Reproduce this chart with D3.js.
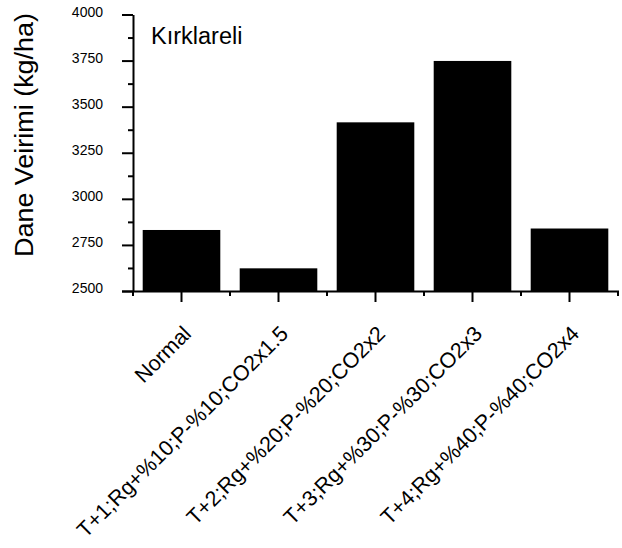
<!DOCTYPE html>
<html>
<head>
<meta charset="utf-8">
<script src="https://cdn.jsdelivr.net/npm/d3@7"></script>
<style>
  html, body { margin: 0; padding: 0; background: #fff; }
  svg { display: block; font-family: "Liberation Sans", Arial, sans-serif; }
</style>
</head>
<body>
<svg id="chart" width="622" height="548"></svg>
<script>
// Grain yield per climate scenario, Kırklareli
const scenarios = [
  "Normal",
  "T+1;Rg+%10;P-%10;CO2x1.5",
  "T+2;Rg+%20;P-%20;CO2x2",
  "T+3;Rg+%30;P-%30;CO2x3",
  "T+4;Rg+%40;P-%40;CO2x4"
];
const yieldValues = [2831, 2623, 3415, 3748, 2839];
const yTicks = [2500, 2750, 3000, 3250, 3500, 3750, 4000];
const yTitle = "Dane Veirimi (kg/ha)";
const panelTitle = "Kırklareli";

const svg = d3.select("#chart");

const plotLeft = 133, plotRight = 618, plotTop = 14.5, plotBottom = 291;

const x = d3.scaleBand()
  .domain(scenarios)
  .range([plotLeft, plotRight])
  .paddingInner(0.2)
  .paddingOuter(0.1);

const y = d3.scaleLinear()
  .domain([2500, 4000])
  .range([plotBottom, plotTop]);

// bars
svg.append("g")
  .selectAll("rect")
  .data(scenarios)
  .join("rect")
  .attr("x", d => x(d))
  .attr("width", x.bandwidth())
  .attr("y", (d, i) => y(yieldValues[i]))
  .attr("height", (d, i) => plotBottom - y(yieldValues[i]))
  .attr("fill", "#000");

const strokeW = 2;

// y axis: major ticks with labels
const yAxis = svg.append("g")
  .attr("transform", `translate(${plotLeft},0)`)
  .call(d3.axisLeft(y).tickValues(yTicks).tickFormat(d3.format("d"))
    .tickSize(11).tickPadding(19).tickSizeOuter(0));
yAxis.select(".domain").attr("stroke-width", strokeW);
yAxis.selectAll(".tick line").attr("stroke-width", strokeW);
yAxis.selectAll(".tick text")
  .attr("font-size", 14)
  .attr("dy", "0.14em")
  .attr("font-family", "Liberation Sans, Arial, sans-serif")
  .attr("fill", "#000");

// y axis: minor ticks between labelled ones
const yMinor = d3.pairs(yTicks).map(([a, b]) => (a + b) / 2);
const yAxisMinor = svg.append("g")
  .attr("transform", `translate(${plotLeft},0)`)
  .call(d3.axisLeft(y).tickValues(yMinor).tickSize(5).tickFormat(""));
yAxisMinor.select(".domain").remove();
yAxisMinor.selectAll(".tick line").attr("stroke-width", strokeW);

// x axis: major ticks at band centres
const xAxis = svg.append("g")
  .attr("transform", `translate(0,${plotBottom})`)
  .call(d3.axisBottom(x).tickSize(11).tickFormat("").tickSizeOuter(0));
xAxis.select(".domain").attr("stroke-width", strokeW)
  .attr("d", `M${plotLeft - 11},0.5H${plotRight + 1}`);
xAxis.selectAll(".tick line").attr("stroke-width", strokeW);

// x axis: minor ticks at band boundaries
const boundaries = scenarios.map(d => x(d) - x.step() * x.paddingInner() / 2)
  .concat([plotRight]);
svg.append("g")
  .selectAll("line")
  .data(boundaries)
  .join("line")
  .attr("x1", d => d).attr("x2", d => d)
  .attr("y1", plotBottom).attr("y2", plotBottom + 5)
  .attr("stroke", "#000")
  .attr("stroke-width", strokeW);

// rotated category labels
svg.append("g")
  .selectAll("text")
  .data(scenarios)
  .join("text")
  .attr("transform", d => `translate(${x(d) + x.bandwidth() / 2 + 11},${plotBottom + 44}) rotate(-45)`)
  .attr("text-anchor", "end")
  .attr("font-size", 21.5)
  .attr("fill", "#000")
  .text(d => d);

// y title
svg.append("text")
  .attr("transform", `translate(33,135) rotate(-90)`)
  .attr("text-anchor", "middle")
  .attr("font-size", 25)
  .attr("textLength", 244)
  .attr("lengthAdjust", "spacingAndGlyphs")
  .attr("fill", "#000")
  .text(yTitle);

// panel title
svg.append("text")
  .attr("x", 151)
  .attr("y", 44)
  .attr("font-size", 23.5)
  .attr("fill", "#000")
  .text(panelTitle);
</script>
</body>
</html>
